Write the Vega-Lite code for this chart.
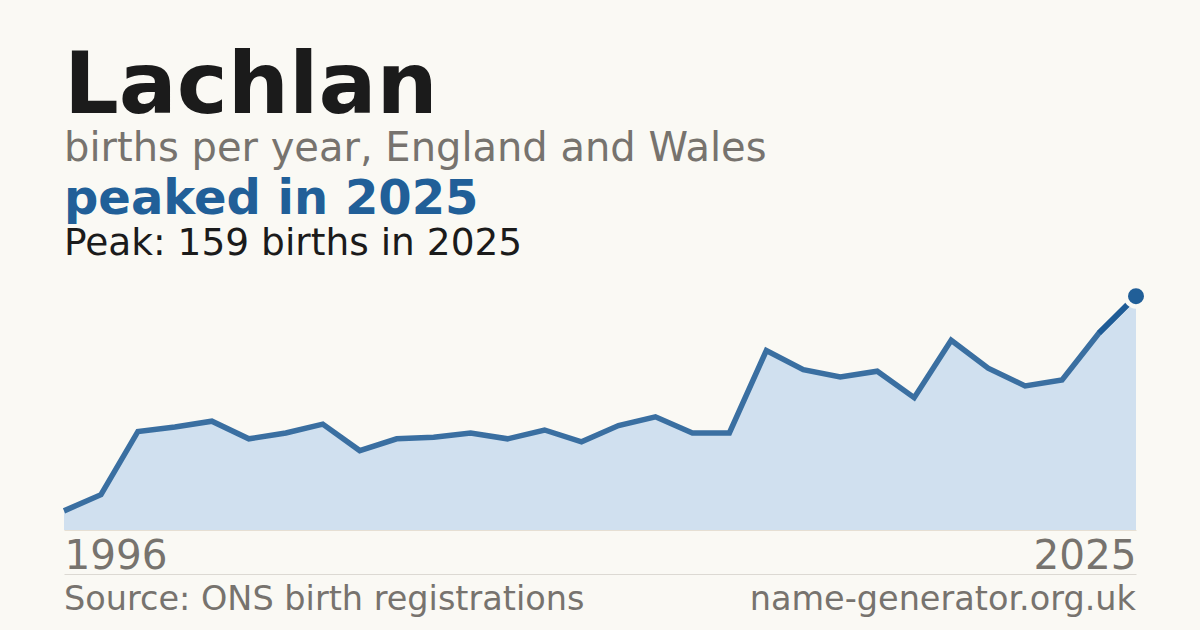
{
  "$schema": "https://vega.github.io/schema/vega-lite/v6.json",
  "background": "#faf9f4",
  "padding": {"left": 53, "right": 50, "top": 44, "bottom": 0},
  "title": {
    "text": "Lachlan",
    "subtitle": "births per year, England and Wales",
    "anchor": "start",
    "frame": "group",
    "font": "DejaVu Sans",
    "fontSize": 86,
    "fontWeight": "bold",
    "color": "#1b1b1b",
    "subtitleFont": "DejaVu Sans",
    "subtitleFontSize": 40,
    "subtitleColor": "#77736e",
    "subtitlePadding": -2,
    "offset": 6
  },
  "spacing": 44,
  "bounds": "flush",
  "vconcat": [
    {
      "width": 1072,
      "height": 250,
      "data": {
        "values": [
          {"year": 1996, "births": 13},
          {"year": 1997, "births": 24},
          {"year": 1998, "births": 67},
          {"year": 1999, "births": 70},
          {"year": 2000, "births": 74},
          {"year": 2001, "births": 62},
          {"year": 2002, "births": 66},
          {"year": 2003, "births": 72},
          {"year": 2004, "births": 54},
          {"year": 2005, "births": 62},
          {"year": 2006, "births": 63},
          {"year": 2007, "births": 66},
          {"year": 2008, "births": 62},
          {"year": 2009, "births": 68},
          {"year": 2010, "births": 60},
          {"year": 2011, "births": 71},
          {"year": 2012, "births": 77},
          {"year": 2013, "births": 66},
          {"year": 2014, "births": 66},
          {"year": 2015, "births": 122},
          {"year": 2016, "births": 109},
          {"year": 2017, "births": 104},
          {"year": 2018, "births": 108},
          {"year": 2019, "births": 90},
          {"year": 2020, "births": 129},
          {"year": 2021, "births": 110},
          {"year": 2022, "births": 98},
          {"year": 2023, "births": 102},
          {"year": 2024, "births": 134},
          {"year": 2025, "births": 159}
        ]
      },
      "title": {
        "text": "peaked in 2025",
        "subtitle": "Peak: 159 births in 2025",
        "anchor": "start",
        "frame": "group",
        "font": "DejaVu Sans",
        "fontSize": 48,
        "fontWeight": "bold",
        "color": "#215f98",
        "subtitleFont": "DejaVu Sans",
        "subtitleFontSize": 37.5,
        "subtitleColor": "#1b1b1b",
        "subtitlePadding": 1,
        "offset": 14
      },
      "encoding": {
        "x": {
          "field": "year",
          "type": "quantitative",
          "scale": {"domain": [1996, 2025], "nice": false, "zero": false},
          "axis": {
            "values": [1996, 2025],
            "format": "d",
            "title": null,
            "grid": false,
            "ticks": false,
            "tickSize": 0,
            "labelFlush": true,
            "labelBaseline": "alphabetic",
            "labelPadding": 38,
            "labelFontSize": 40.5,
            "labelColor": "#77736e",
            "domainColor": "#e6dfd3",
            "domainWidth": 1
          }
        },
        "y": {
          "field": "births",
          "type": "quantitative",
          "scale": {"domain": [0, 170], "nice": false},
          "axis": null
        }
      },
      "layer": [
        {"mark": {"type": "area", "color": "#d0e0ef"}},
        {"mark": {"type": "line", "color": "#3a6fa1", "strokeWidth": 5.5}},
        {
          "transform": [{"filter": "datum.year >= 2024"}],
          "mark": {"type": "line", "color": "#1f5c96", "strokeWidth": 5.5}
        },
        {
          "transform": [{"filter": "datum.year == 2025"}],
          "mark": {
            "type": "point",
            "filled": true,
            "opacity": 1,
            "size": 420,
            "fill": "#215f98",
            "stroke": "#faf9f4",
            "strokeWidth": 4.5
          }
        }
      ]
    },
    {
      "width": 1072,
      "height": 56,
      "data": {"values": [{"left": "Source: ONS birth registrations", "right": "name-generator.org.uk"}]},
      "layer": [
        {
          "mark": {
            "type": "text",
            "align": "left",
            "baseline": "alphabetic",
            "dy": 8,
            "fontSize": 33.5,
            "color": "#77736e"
          },
          "encoding": {
            "x": {
              "datum": 1996,
              "type": "quantitative",
              "scale": {"domain": [1996, 2025], "nice": false, "zero": false},
              "axis": {
                "orient": "top",
                "labels": false,
                "ticks": false,
                "grid": false,
                "title": null,
                "domainColor": "#dcd9d3",
                "domainWidth": 1
              }
            },
            "text": {"field": "left"}
          }
        },
        {
          "mark": {
            "type": "text",
            "align": "right",
            "baseline": "alphabetic",
            "dy": 8,
            "fontSize": 33.5,
            "color": "#77736e"
          },
          "encoding": {
            "x": {"datum": 2025, "type": "quantitative"},
            "text": {"field": "right"}
          }
        }
      ]
    }
  ],
  "config": {
    "font": "DejaVu Sans",
    "view": {"stroke": null}
  }
}
